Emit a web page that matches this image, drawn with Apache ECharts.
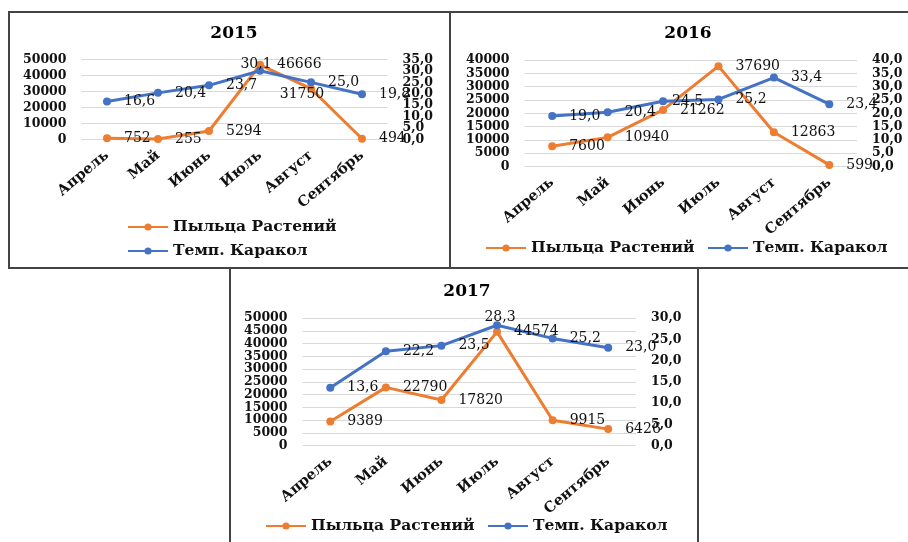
<!DOCTYPE html>
<html>
<head>
<meta charset="utf-8">
<script src="https://cdn.jsdelivr.net/npm/echarts@6/dist/echarts.min.js"></script>
<style>
html,body{margin:0;padding:0;background:#fff;}
#chart{width:908px;height:542px;}
</style>
</head>
<body>
<div id="chart"></div>
<script>
// ---- data ----
const categories = ['Апрель', 'Май', 'Июнь', 'Июль', 'Август', 'Сентябрь'];
const years = ['2015', '2016', '2017'];
const seriesNames = ['Пыльца Растений', 'Темп. Каракол'];
const pollen2015 = [752, 255, 5294, 46666, 31750, 494];
const temp2015 = [16.6, 20.4, 23.7, 30.1, 25.0, 19.8];
const pollen2016 = [7600, 10940, 21262, 37690, 12863, 599];
const temp2016 = [19.0, 20.4, 24.5, 25.2, 33.4, 23.4];
const pollen2017 = [9389, 22790, 17820, 44574, 9915, 6426];
const temp2017 = [13.6, 22.2, 23.5, 28.3, 25.2, 23.0];
const leftMax = [50000, 40000, 50000];
const leftInterval = [10000, 5000, 5000];
const rightMax = [35, 40, 30];
const rightInterval = [5, 5, 5];

const pollenData = [pollen2015, pollen2016, pollen2017];
const tempData = [temp2015, temp2016, temp2017];

// ---- layout / style ----
const FONT = 'DejaVu Serif';
const ORANGE = '#ED7D31';
const BLUE = '#4472C4';
const panels = [
  { grid: {left: 81.5, top: 59.5, width: 306, height: 80}, title: {x: 229, y: 20},
    legends: [{left: 127, top: 219, orient: 'vertical'}, {left: 127, top: 243, orient: 'vertical'}] },
  { grid: {left: 524.5, top: 60, width: 332.5, height: 106.5}, title: {x: 683, y: 20},
    legends: [{left: 485, top: 240}, {left: 707, top: 240}] },
  { grid: {left: 302.5, top: 318, width: 333.5, height: 127.5}, title: {x: 462, y: 278},
    legends: [{left: 265, top: 518}, {left: 487, top: 518}] }
];
// per-point label placement tweaks (style only)
const pollenLabelAdjust = [
  {4: {position: 'inside', offset: [-9, 6]}},
  {},
  {}
];
const tempLabelAdjust = [
  {3: {position: 'inside', offset: [-4, -6]}},
  {2: {distance: 5}},
  {3: {position: 'inside', offset: [3, -8]}}
];

const comma = v => Number(v).toFixed(1).replace('.', ',');
const plain = v => String(v);

const option = {
  backgroundColor: '#fff',
  animation: false,
  title: [], grid: [], xAxis: [], yAxis: [], series: [], legend: [],
  graphic: [
    {type: 'rect', shape: {x: 9, y: 12, width: 441, height: 256}, style: {fill: 'none', stroke: '#444', lineWidth: 2}, silent: true},
    {type: 'rect', shape: {x: 450, y: 12, width: 470, height: 256}, style: {fill: 'none', stroke: '#444', lineWidth: 2}, silent: true},
    {type: 'rect', shape: {x: 230, y: 268, width: 468, height: 290}, style: {fill: 'none', stroke: '#444', lineWidth: 2}, silent: true}
  ]
};

function buildData(values, adjust) {
  return values.map((v, j) => adjust[j] ? {value: v, label: adjust[j]} : v);
}

const labelFont = {margin: 15, fontFamily: FONT, fontWeight: 'bold', fontSize: 12.5, color: '#111', hideOverlap: false};

// Two axes per side sharing one scale: one draws the inner tick labels,
// the overlay draws only the end labels (so crowded labels are all kept).
function valueAxes(gridIndex, side, max, interval, fmt, withSplit) {
  const base = {
    type: 'value', gridIndex: gridIndex, position: side, min: 0, max: max, interval: interval,
    axisLine: {show: false}, axisTick: {show: false}
  };
  const inner = Object.assign({}, base, {
    axisLabel: Object.assign({formatter: fmt, showMinLabel: false, showMaxLabel: false}, labelFont),
    splitLine: {show: withSplit, lineStyle: {color: '#d9d9d9', width: 1}}
  });
  const ends = Object.assign({}, base, {
    axisLabel: Object.assign({formatter: v => (v === 0 || v === max) ? fmt(v) : '', showMinLabel: true, showMaxLabel: true}, labelFont),
    splitLine: {show: false}
  });
  return [inner, ends];
}

panels.forEach((p, i) => {
  option.title.push({
    text: years[i], left: p.title.x, top: p.title.y, textAlign: 'center',
    textStyle: {fontFamily: FONT, fontWeight: 'bold', fontSize: 17, color: '#000'}
  });
  option.grid.push(Object.assign({containLabel: false}, p.grid));
  option.xAxis.push({
    type: 'category', gridIndex: i, data: categories,
    axisLine: {show: false}, axisTick: {show: false},
    axisLabel: {rotate: 40, margin: 14, interval: 0, fontFamily: FONT, fontWeight: 'bold', fontSize: 14.5, color: '#111', hideOverlap: false}
  });
  const leftAxes = valueAxes(i, 'left', leftMax[i], leftInterval[i], plain, true);
  const rightAxes = valueAxes(i, 'right', rightMax[i], rightInterval[i], comma, false);
  const leftIdx = option.yAxis.length;
  option.yAxis.push(leftAxes[0]);
  const rightIdx = option.yAxis.length;
  option.yAxis.push(rightAxes[0]);
  option.yAxis.push(leftAxes[1]);
  option.yAxis.push(rightAxes[1]);

  option.series.push({
    name: seriesNames[0], type: 'line', xAxisIndex: i, yAxisIndex: leftIdx,
    data: buildData(pollenData[i], pollenLabelAdjust[i]),
    symbol: 'circle', symbolSize: 8, color: ORANGE,
    lineStyle: {width: 3, color: ORANGE}, itemStyle: {color: ORANGE},
    label: {show: true, position: 'right', distance: 13, fontFamily: FONT, fontSize: 14, color: '#111'}
  });
  option.series.push({
    name: seriesNames[1], type: 'line', xAxisIndex: i, yAxisIndex: rightIdx,
    data: buildData(tempData[i], tempLabelAdjust[i]),
    symbol: 'circle', symbolSize: 8, color: BLUE,
    lineStyle: {width: 3, color: BLUE}, itemStyle: {color: BLUE},
    label: {show: true, position: 'right', distance: 13, fontFamily: FONT, fontSize: 14, color: '#111', formatter: d => comma(d.value)}
  });
  p.legends.forEach((lg, k) => {
    option.legend.push({
      data: [seriesNames[k]], left: lg.left, top: lg.top, orient: lg.orient || 'horizontal',
      itemWidth: 40, itemHeight: 9, selectedMode: false, padding: 0,
      textStyle: {fontFamily: FONT, fontWeight: 'bold', fontSize: 15.5, color: '#111'}
    });
  });
});

const chart = echarts.init(document.getElementById('chart'));
chart.setOption(option);
</script>
</body>
</html>
